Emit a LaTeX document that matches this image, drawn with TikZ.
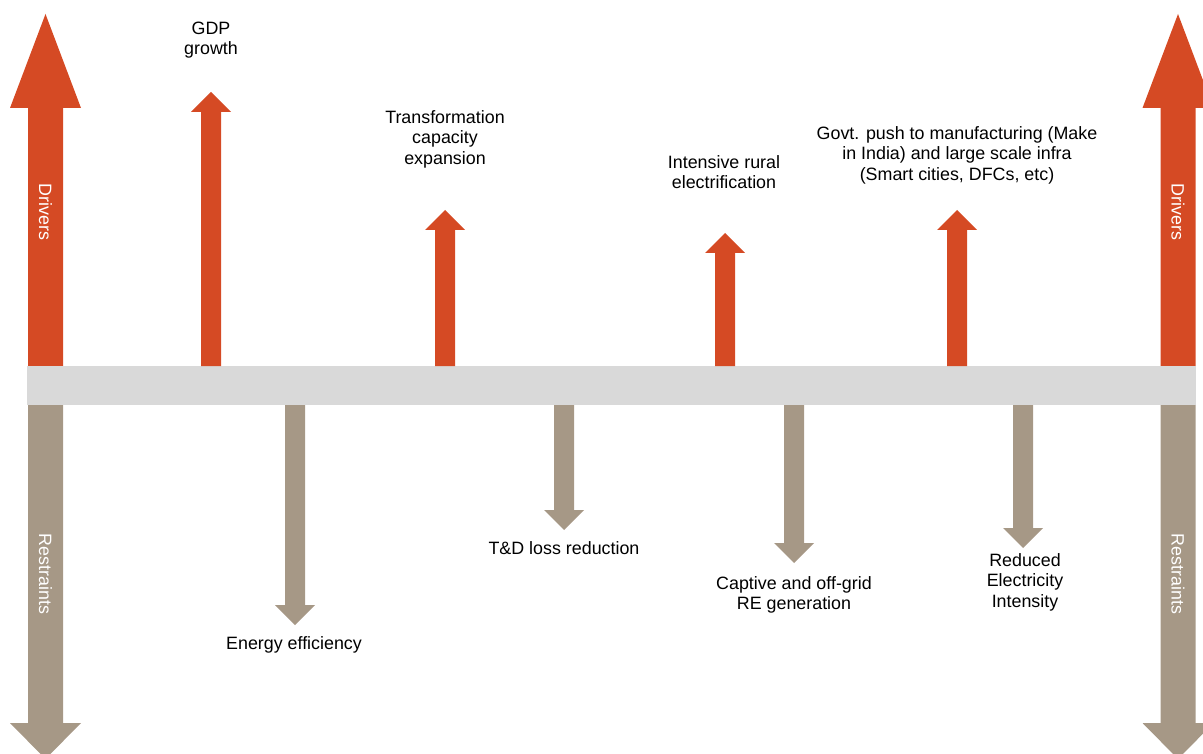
\documentclass[tikz,border=0pt]{standalone}
\usepackage{fontspec}
\setmainfont{Liberation Sans}
\definecolor{drvRed}{HTML}{D54A24}
\definecolor{rstTaupe}{HTML}{A69886}
\definecolor{barGray}{HTML}{D9D9D9}
\begin{document}
\begin{tikzpicture}[
    x=0.025cm, y=-0.025cm,
    lbl/.style={font=\fontsize{12.7}{14.6}\selectfont, align=center, inner sep=0pt},
    sidelbl/.style={font=\fontsize{12.7}{14.6}\selectfont, text=white, rotate=-90, inner sep=0pt},
]

\useasboundingbox (0, 0) rectangle (1203, 754);
\clip (0, 0) rectangle (1203, 754);

% --- Large side arrows ---
\foreach \cx in {45.5, 1178} {
    \fill[drvRed] (\cx-17.5, 367) -- (\cx-17.5, 108) -- (\cx-35.5, 108) -- (\cx, 14)
        -- (\cx+35.5, 108) -- (\cx+17.5, 108) -- (\cx+17.5, 367) -- cycle;
    \fill[rstTaupe] (\cx-17.5, 405) -- (\cx-17.5, 723) -- (\cx-35.5, 723) -- (\cx, 759)
        -- (\cx+35.5, 723) -- (\cx+17.5, 723) -- (\cx+17.5, 405) -- cycle;
}

% Center bar
\fill[barGray] (27, 366) rectangle (1196, 405);

% --- Drivers (small up arrows) ---
\foreach \cx/\ty in {211/92, 445/210, 725/233, 957/210} {
    \fill[drvRed] (\cx-10, 366) -- (\cx-10, \ty+20) -- (\cx-20, \ty+20) -- (\cx, \ty)
        -- (\cx+20, \ty+20) -- (\cx+10, \ty+20) -- (\cx+10, 366) -- cycle;
}

% --- Restraints (small down arrows) ---
\foreach \cx/\ty in {295/625, 564/530, 794/563, 1023/548} {
    \fill[rstTaupe] (\cx-10, 405) -- (\cx-10, \ty-20) -- (\cx-20, \ty-20) -- (\cx, \ty)
        -- (\cx+20, \ty-20) -- (\cx+10, \ty-20) -- (\cx+10, 405) -- cycle;
}

% Side labels
\node[sidelbl] (drvL) at (45.5, 212) {Drivers};
\node[sidelbl] (drvR) at (1178, 212) {Drivers};
\node[sidelbl] (rstL) at (45.5, 574) {Restraints};
\node[sidelbl] (rstR) at (1178, 574) {Restraints};

% Driver labels
\node[lbl] (gdp) at (211, 40) {GDP\\growth};
\node[lbl] (trans) at (445, 139) {Transformation\\capacity\\expansion};
\node[lbl] (rural) at (724, 172) {Intensive rural\\electrification};
\node[lbl] (govt) at (957, 155) {Govt. push to manufacturing (Make\\in India) and large scale infra\\(Smart cities, DFCs, etc)};

% Restraint labels
\node[lbl] (eff) at (294, 645) {Energy efficiency};
\node[lbl] (tdl) at (564, 548) {T\&D loss reduction};
\node[lbl] (capt) at (794, 595) {Captive and off-grid\\RE generation};
\node[lbl] (intens) at (1025, 582) {Reduced\\Electricity\\Intensity};

\end{tikzpicture}
\end{document}
